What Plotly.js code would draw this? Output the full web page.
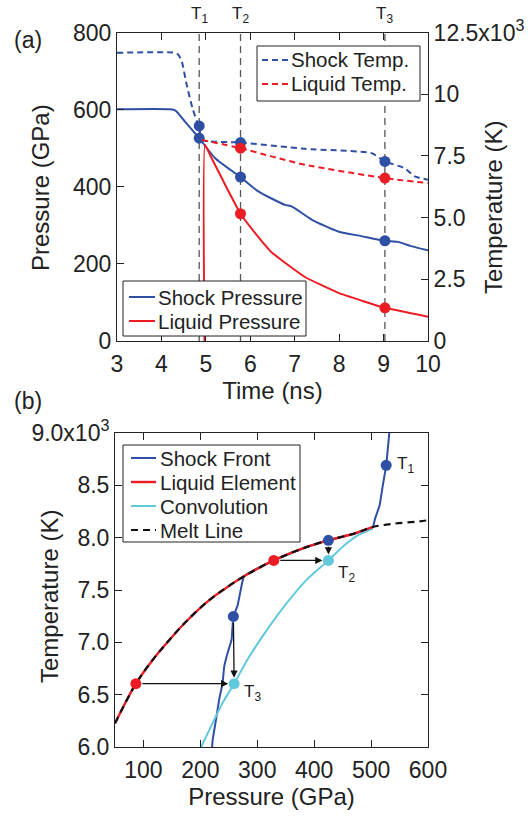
<!DOCTYPE html>
<html>
<head>
<meta charset="utf-8">
<script src="https://cdn.plot.ly/plotly-3.0.1.min.js"></script>
<style>html,body{margin:0;padding:0;background:#fff}#chart{width:532px;height:817px}</style>
</head>
<body>
<div id="chart"></div>
<script>
// ---------- Panel (a): time histories ----------
const markTimes = [4.85, 5.78, 9.03];
const markLabels = ['T<sub>1</sub>', 'T<sub>2</sub>', 'T<sub>3</sub>'];

const timeShockP = [3, 4.2, 4.31, 4.53, 4.85, 5.21, 5.78, 6.18, 6.78, 6.93, 7.38, 7.98, 8.5, 9.03, 9.32, 9.62, 10];
const shockP     = [601, 601, 598, 569, 526, 474, 425, 388, 353, 349, 315, 284, 272, 260, 257, 246, 235];

const timeLiquidP = [4.97, 4.98, 5.1, 5.36, 5.78, 6.11, 6.49, 7.23, 8.0, 8.5, 9.03, 10];
const liquidP     = [0, 509, 481, 422, 330, 280, 229, 166, 124, 105, 86, 63];

const timeShockT = [3, 4.3, 4.38, 4.46, 4.57, 4.70, 4.80, 4.85, 4.91, 5.78, 7.23, 8.73, 9.03, 9.47, 9.7, 10];
const shockT     = [11680, 11680, 11600, 11315, 10372, 9429, 8890, 8715, 8149, 8042, 7786, 7611, 7274, 7004, 6668, 6533];

const timeLiquidT = [4.91, 5.78, 6.5, 7.23, 9.03, 10];
const liquidT     = [8149, 7813, 7470, 7139, 6600, 6398];

const shockPMarks  = [526, 425, 260];
const shockTMarks  = [8715, 8042, 7274];
const liquidPMarkT = [5.78, 9.03];
const liquidPMarks = [330, 86];
const liquidTMarks = [7813, 6600];

const pressTicks = [0, 200, 400, 600, 800];
const tempTicksA = [0, 2500, 5000, 7500, 10000, 12500];
const tempTextA  = ['0', '2.5', '5.0', '7.5', '10', '12.5x10<sup>3</sup>'];
const timeTicks  = [3, 4, 5, 6, 7, 8, 9, 10];

// ---------- Panel (b): temperature vs pressure ----------
const meltP = [50, 86.7, 114.5, 143.5, 172.5, 213, 242, 276.8, 329, 387, 425, 471, 503, 541, 585, 600];
const meltT = [6226, 6605, 6820, 7010, 7185, 7392, 7508, 7631, 7783, 7911, 7975, 8040, 8102, 8134, 8156, 8166];

const liqElemP = [50, 86.7, 114.5, 143.5, 172.5, 213, 242, 276.8, 329, 387, 425, 471, 503];
const liqElemT = [6226, 6605, 6820, 7010, 7185, 7392, 7508, 7631, 7783, 7911, 7975, 8040, 8102];

const shockFrontP = [532, 526.5, 520.6, 515, 507, 503, 471, 425, 387, 329, 276.8, 271, 265, 258, 254.8, 247.8, 242, 239, 233, 227.5, 221.7, 220.6];
const shockFrontT = [9000, 8691, 8500, 8309, 8182, 8102, 8040, 7975, 7911, 7783, 7631, 7503, 7344, 7248, 7025, 6898, 6771, 6611, 6452, 6261, 6070, 6000];

const convP = [503, 476.7, 453, 425, 387, 352, 317.4, 282.6, 259.4, 239, 218.8, 201.4];
const convT = [8086, 8022, 7927, 7783, 7599, 7376, 7121, 6834, 6605, 6420, 6197, 6000];

const redMarkP  = [86.7, 329],       redMarkT  = [6605, 7783];
const blueMarkP = [526.5, 425, 258], blueMarkT = [8691, 7975, 7248];
const cyanMarkP = [425, 259.4],      cyanMarkT = [7783, 6605];
const bLabels   = ['T<sub>1</sub>', 'T<sub>2</sub>', 'T<sub>3</sub>'];

const pressTicksB = [100, 200, 300, 400, 500, 600];
const tempTicksB  = [6000, 6500, 7000, 7500, 8000, 8500, 9000];
const tempTextB   = ['6.0', '6.5', '7.0', '7.5', '8.0', '8.5', '9.0x10<sup>3</sup>'];

// legend entries
const legA1 = ['Shock Temp.', 'Liquid Temp.'];
const legA2 = ['Shock Pressure', 'Liquid Pressure'];
const legB  = ['Shock Front', 'Liquid Element', 'Convolution', 'Melt Line'];

// ---------- styles ----------
const BLUE = '#2e4fa3', RED = '#ec1c24', CYAN = '#62c8dc', BLACK = '#111';
const FONT = 'Liberation Sans, Arial, Helvetica, sans-serif';
const TXT = '#222';
const mk = c => ({color: c, size: 11});
const sp = (s) => ({shape: 'spline', smoothing: s});
const TDASH = '6px,4px', MDASH = '7px,5px';

const traces = [
  // panel a
  {x: timeShockT, y: shockT, xaxis: 'x', yaxis: 'y2', mode: 'lines', name: legA1[0],
   line: Object.assign({color: BLUE, width: 2, dash: TDASH}, sp(0.5))},
  {x: timeLiquidT, y: liquidT, xaxis: 'x', yaxis: 'y2', mode: 'lines', name: legA1[1],
   line: Object.assign({color: RED, width: 2, dash: TDASH}, sp(0.6))},
  {x: timeShockP, y: shockP, xaxis: 'x', yaxis: 'y', mode: 'lines', name: legA2[0],
   line: Object.assign({color: BLUE, width: 2}, sp(0.6))},
  {x: timeLiquidP, y: liquidP, xaxis: 'x', yaxis: 'y', mode: 'lines', name: legA2[1],
   line: Object.assign({color: RED, width: 2}, sp(0.4))},
  {x: markTimes, y: shockTMarks, xaxis: 'x', yaxis: 'y2', mode: 'markers', marker: mk(BLUE)},
  {x: liquidPMarkT, y: liquidTMarks, xaxis: 'x', yaxis: 'y2', mode: 'markers', marker: mk(RED)},
  {x: markTimes, y: shockPMarks, xaxis: 'x', yaxis: 'y', mode: 'markers', marker: mk(BLUE)},
  {x: liquidPMarkT, y: liquidPMarks, xaxis: 'x', yaxis: 'y', mode: 'markers', marker: mk(RED)},
  // panel b
  {x: shockFrontP, y: shockFrontT, xaxis: 'x2', yaxis: 'y3', mode: 'lines', name: legB[0],
   line: Object.assign({color: BLUE, width: 2}, sp(0.4))},
  {x: convP, y: convT, xaxis: 'x2', yaxis: 'y3', mode: 'lines', name: legB[2],
   line: Object.assign({color: CYAN, width: 2}, sp(0.6))},
  {x: liqElemP, y: liqElemT, xaxis: 'x2', yaxis: 'y3', mode: 'lines', name: legB[1],
   line: Object.assign({color: RED, width: 2.4}, sp(1))},
  {x: meltP, y: meltT, xaxis: 'x2', yaxis: 'y3', mode: 'lines', name: legB[3],
   line: Object.assign({color: BLACK, width: 2.2, dash: MDASH}, sp(1))},
  {x: redMarkP, y: redMarkT, xaxis: 'x2', yaxis: 'y3', mode: 'markers', marker: mk(RED)},
  {x: blueMarkP, y: blueMarkT, xaxis: 'x2', yaxis: 'y3', mode: 'markers', marker: mk(BLUE)},
  {x: cyanMarkP, y: cyanMarkT, xaxis: 'x2', yaxis: 'y3', mode: 'markers', marker: mk(CYAN)}
];
traces.forEach(t => { t.showlegend = false; });

const axisBase = {
  showgrid: false, zeroline: false, showline: true, linecolor: '#222', linewidth: 1,
  ticks: 'inside', ticklen: 7, tickcolor: '#222', tickwidth: 1,
  tickfont: {family: FONT, size: 23, color: TXT}
};
const titleFont = {family: FONT, size: 24, color: TXT};
const PX = x => x / 532, PY = y => 1 - y / 817;

// vertical time markers
const shapes = markTimes.map(t => ({
  type: 'line', xref: 'x', yref: 'y domain', x0: t, x1: t, y0: 0, y1: 1,
  line: {color: '#555', width: 1.3, dash: '7px,5px'}, layer: 'below'
}));

const annotations = [];
// hand-placed legends (box + sample line + text)
function addLegend(box, lineX, textX, rows, names, styles) {
  shapes.push({type: 'rect', xref: 'paper', yref: 'paper', x0: PX(box[0]), x1: PX(box[1]), y0: PY(box[3]), y1: PY(box[2]),
    line: {color: '#222', width: 1}, fillcolor: '#fff', layer: 'above'});
  names.forEach((n, i) => {
    shapes.push({type: 'line', xref: 'paper', yref: 'paper', x0: PX(lineX[0]), x1: PX(lineX[1]), y0: PY(rows[i]), y1: PY(rows[i]),
      line: styles[i], layer: 'above'});
    annotations.push({xref: 'paper', yref: 'paper', x: PX(textX), y: PY(rows[i]), text: n, showarrow: false,
      xanchor: 'left', yanchor: 'middle', font: {family: FONT, size: 20.5, color: TXT}});
  });
}
addLegend([257, 420, 46, 101], [262, 288], 289, [60, 84], legA1,
  [{color: BLUE, width: 2, dash: TDASH}, {color: RED, width: 2, dash: TDASH}]);
addLegend([123, 306, 281, 336], [129, 155], 156, [297, 321], legA2,
  [{color: BLUE, width: 2}, {color: RED, width: 2}]);
addLegend([123, 300, 445, 542], [131, 156], 158, [458, 482, 506, 530], legB,
  [{color: BLUE, width: 2}, {color: RED, width: 2.4}, {color: CYAN, width: 2}, {color: BLACK, width: 2.2, dash: MDASH}]);

markTimes.forEach((t, i) => annotations.push({
  xref: 'x', yref: 'paper', x: t, y: PY(15), text: markLabels[i], showarrow: false,
  font: {family: FONT, size: 17, color: TXT}, xanchor: 'center', yanchor: 'middle'
}));
// panel b point labels
const bOff = [[9, 0], [8, -14], [8, -9]];
const bLabP = [blueMarkP[0], cyanMarkP[0], cyanMarkP[1]];
const bLabT = [blueMarkT[0], cyanMarkT[0], cyanMarkT[1]];
bLabP.forEach((p, i) => annotations.push({
  xref: 'x2', yref: 'y3', x: p, y: bLabT[i], text: bLabels[i], showarrow: false,
  xanchor: 'left', yanchor: 'middle', xshift: bOff[i][0], yshift: bOff[i][1],
  font: {family: FONT, size: 17, color: TXT}
}));
// arrows: red -> cyan (horizontal), blue -> cyan (vertical)
const arrowFrom = [[redMarkP[1], redMarkT[1]], [blueMarkP[1], blueMarkT[1]], [redMarkP[0], redMarkT[0]], [blueMarkP[2], blueMarkT[2]]];
const arrowTo   = [[cyanMarkP[0], cyanMarkT[0]], [cyanMarkP[0], cyanMarkT[0]], [cyanMarkP[1], cyanMarkT[1]], [cyanMarkP[1], cyanMarkT[1]]];
arrowFrom.forEach((f, i) => annotations.push({
  xref: 'x2', yref: 'y3', axref: 'x2', ayref: 'y3',
  x: arrowTo[i][0], y: arrowTo[i][1], ax: f[0], ay: f[1], text: '',
  showarrow: true, arrowhead: 2, arrowsize: 1.1, arrowwidth: 1.3, arrowcolor: BLACK,
  standoff: 6, startstandoff: 5
}));
// y-axis titles placed as in the reference
const yTitle = (txt, px, py) => ({xref: 'paper', yref: 'paper', x: PX(px), y: PY(py), text: txt,
  showarrow: false, textangle: -90, font: titleFont, xanchor: 'center', yanchor: 'middle'});
annotations.push(yTitle('Pressure (GPa)', 41, 188));
annotations.push(yTitle('Temperature (K)', 494, 208));
annotations.push(yTitle('Temperature (K)', 49, 597));
// panel letters
annotations.push({xref: 'paper', yref: 'paper', x: PX(28), y: PY(40), text: '(a)', showarrow: false,
  font: {family: FONT, size: 23, color: TXT}, xanchor: 'center', yanchor: 'middle'});
annotations.push({xref: 'paper', yref: 'paper', x: PX(28), y: PY(401), text: '(b)', showarrow: false,
  font: {family: FONT, size: 23, color: TXT}, xanchor: 'center', yanchor: 'middle'});

const layout = {
  width: 532, height: 817, margin: {l: 0, r: 0, t: 0, b: 0},
  paper_bgcolor: '#fff', plot_bgcolor: '#fff',
  font: {family: FONT, color: TXT},
  showlegend: false,
  xaxis: Object.assign({}, axisBase, {
    domain: [PX(117), PX(428)], anchor: 'y', range: [3, 10], tickvals: timeTicks, mirror: 'ticks',
    ticklabelstandoff: 2,
    title: {text: 'Time (ns)', font: titleFont, standoff: 1}
  }),
  yaxis: Object.assign({}, axisBase, {
    domain: [PY(341), PY(32.5)], anchor: 'x', range: [0, 800], tickvals: pressTicks, mirror: true
  }),
  yaxis2: Object.assign({}, axisBase, {
    overlaying: 'y', side: 'right', anchor: 'x', range: [0, 12500],
    tickvals: tempTicksA, ticktext: tempTextA
  }),
  xaxis2: Object.assign({}, axisBase, {
    domain: [PX(115), PX(428)], anchor: 'y3', range: [50, 600], tickvals: pressTicksB, mirror: 'ticks',
    ticklabelstandoff: 2,
    title: {text: 'Pressure (GPa)', font: titleFont, standoff: 1}
  }),
  yaxis3: Object.assign({}, axisBase, {
    domain: [PY(747), PY(433)], anchor: 'x2', range: [6000, 9000],
    tickvals: tempTicksB, ticktext: tempTextB, mirror: 'ticks'
  }),
  shapes: shapes,
  annotations: annotations
};

Plotly.newPlot('chart', traces, layout, {displayModeBar: false, staticPlot: true});
</script>
</body>
</html>
